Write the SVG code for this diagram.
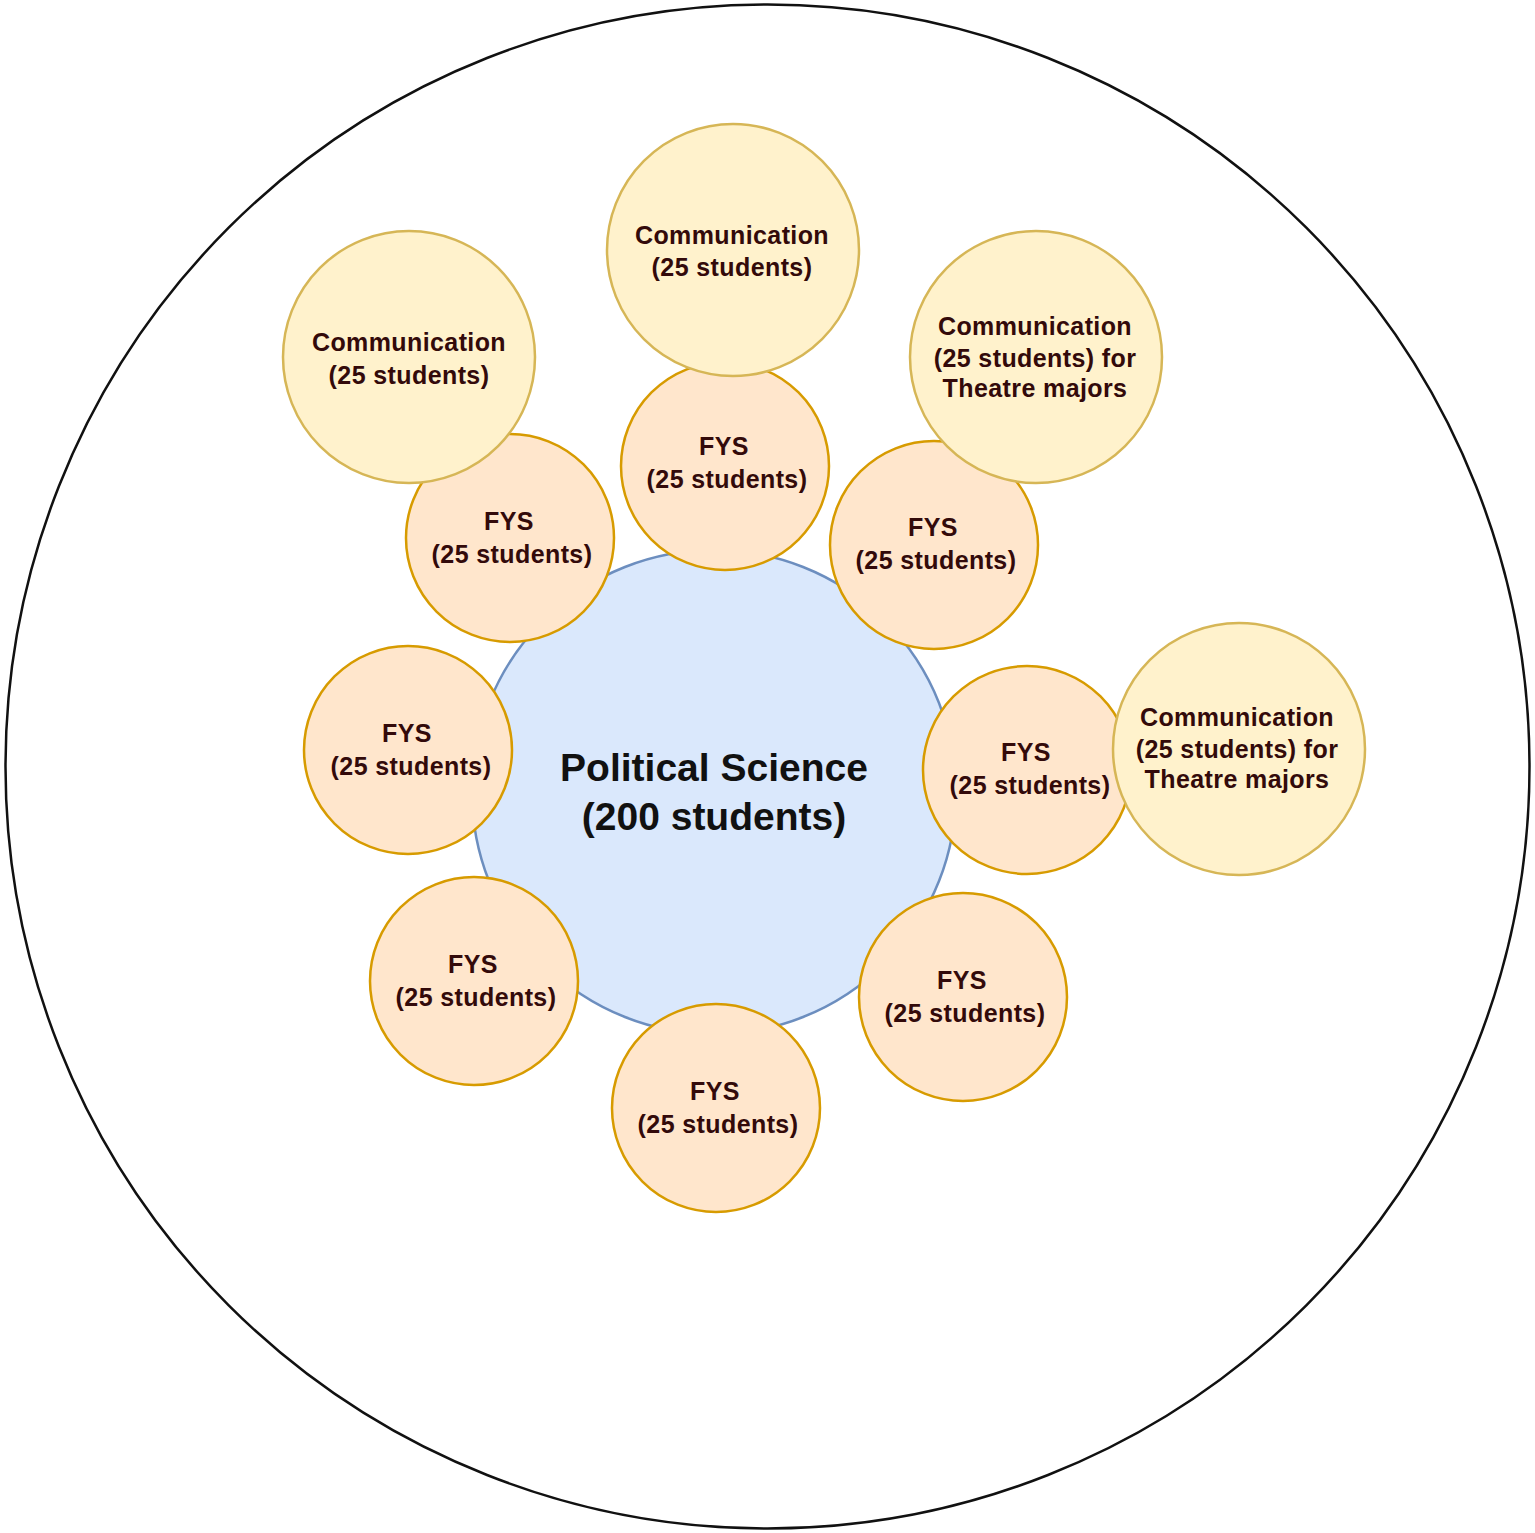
<svg xmlns="http://www.w3.org/2000/svg" width="1535" height="1533" viewBox="0 0 1535 1533">
<style>
.outer{fill:#ffffff;stroke:#111111;stroke-width:2.5}
.ps{fill:#dae8fc;stroke:#6c8ebf;stroke-width:2.5}
.fys{fill:#ffe6cc;stroke:#d79b00;stroke-width:2.5}
.com{fill:#fff2cc;stroke:#d6b656;stroke-width:2.5}
text{font-family:"Liberation Sans",Arial,sans-serif;font-weight:bold;text-anchor:middle}
.t{font-size:25px;fill:#330a0a;letter-spacing:0.4px}
.c{font-size:39px;fill:#111111}
</style>
<rect width="1535" height="1533" fill="#ffffff"/>
<g id="outer"><circle class="outer" cx="767.5" cy="766.5" r="762"/></g>
<g id="connectors"></g>
<g id="polisci"><circle class="ps" cx="714" cy="792" r="242"/>
<text class="c" x="714" y="781">Political Science</text><text class="c" x="714" y="830">(200 students)</text></g>
<g id="fys-top"><circle class="fys" cx="725" cy="466" r="104"/><text class="t" x="724" y="455">FYS</text><text class="t" x="727" y="488">(25 students)</text></g>
<g id="fys-ul"><circle class="fys" cx="510" cy="538" r="104"/><text class="t" x="509" y="530">FYS</text><text class="t" x="512" y="563">(25 students)</text></g>
<g id="fys-ur"><circle class="fys" cx="934" cy="545" r="104"/><text class="t" x="933" y="536">FYS</text><text class="t" x="936" y="569">(25 students)</text></g>
<g id="fys-l"><circle class="fys" cx="408" cy="750" r="104"/><text class="t" x="407" y="742">FYS</text><text class="t" x="411" y="775">(25 students)</text></g>
<g id="fys-r"><circle class="fys" cx="1027" cy="770" r="104"/><text class="t" x="1026" y="761">FYS</text><text class="t" x="1030" y="794">(25 students)</text></g>
<g id="fys-ll"><circle class="fys" cx="474" cy="981" r="104"/><text class="t" x="473" y="973">FYS</text><text class="t" x="476" y="1006">(25 students)</text></g>
<g id="fys-lr"><circle class="fys" cx="963" cy="997" r="104"/><text class="t" x="962" y="989">FYS</text><text class="t" x="965" y="1022">(25 students)</text></g>
<g id="fys-b"><circle class="fys" cx="716" cy="1108" r="104"/><text class="t" x="715" y="1100">FYS</text><text class="t" x="718" y="1133">(25 students)</text></g>
<g id="com-top"><circle class="com" cx="733" cy="250" r="126"/><text class="t" x="732" y="244">Communication</text><text class="t" x="732" y="276">(25 students)</text></g>
<g id="com-ul"><circle class="com" cx="409" cy="357" r="126"/><text class="t" x="409" y="351">Communication</text><text class="t" x="409" y="384">(25 students)</text></g>
<g id="com-ur"><circle class="com" cx="1036" cy="357" r="126"/><text class="t" x="1035" y="335">Communication</text><text class="t" x="1035" y="367">(25 students) for</text><text class="t" x="1035" y="397">Theatre majors</text></g>
<g id="com-r"><circle class="com" cx="1239" cy="749" r="126"/><text class="t" x="1237" y="726">Communication</text><text class="t" x="1237" y="758">(25 students) for</text><text class="t" x="1237" y="788">Theatre majors</text></g>
</svg>
